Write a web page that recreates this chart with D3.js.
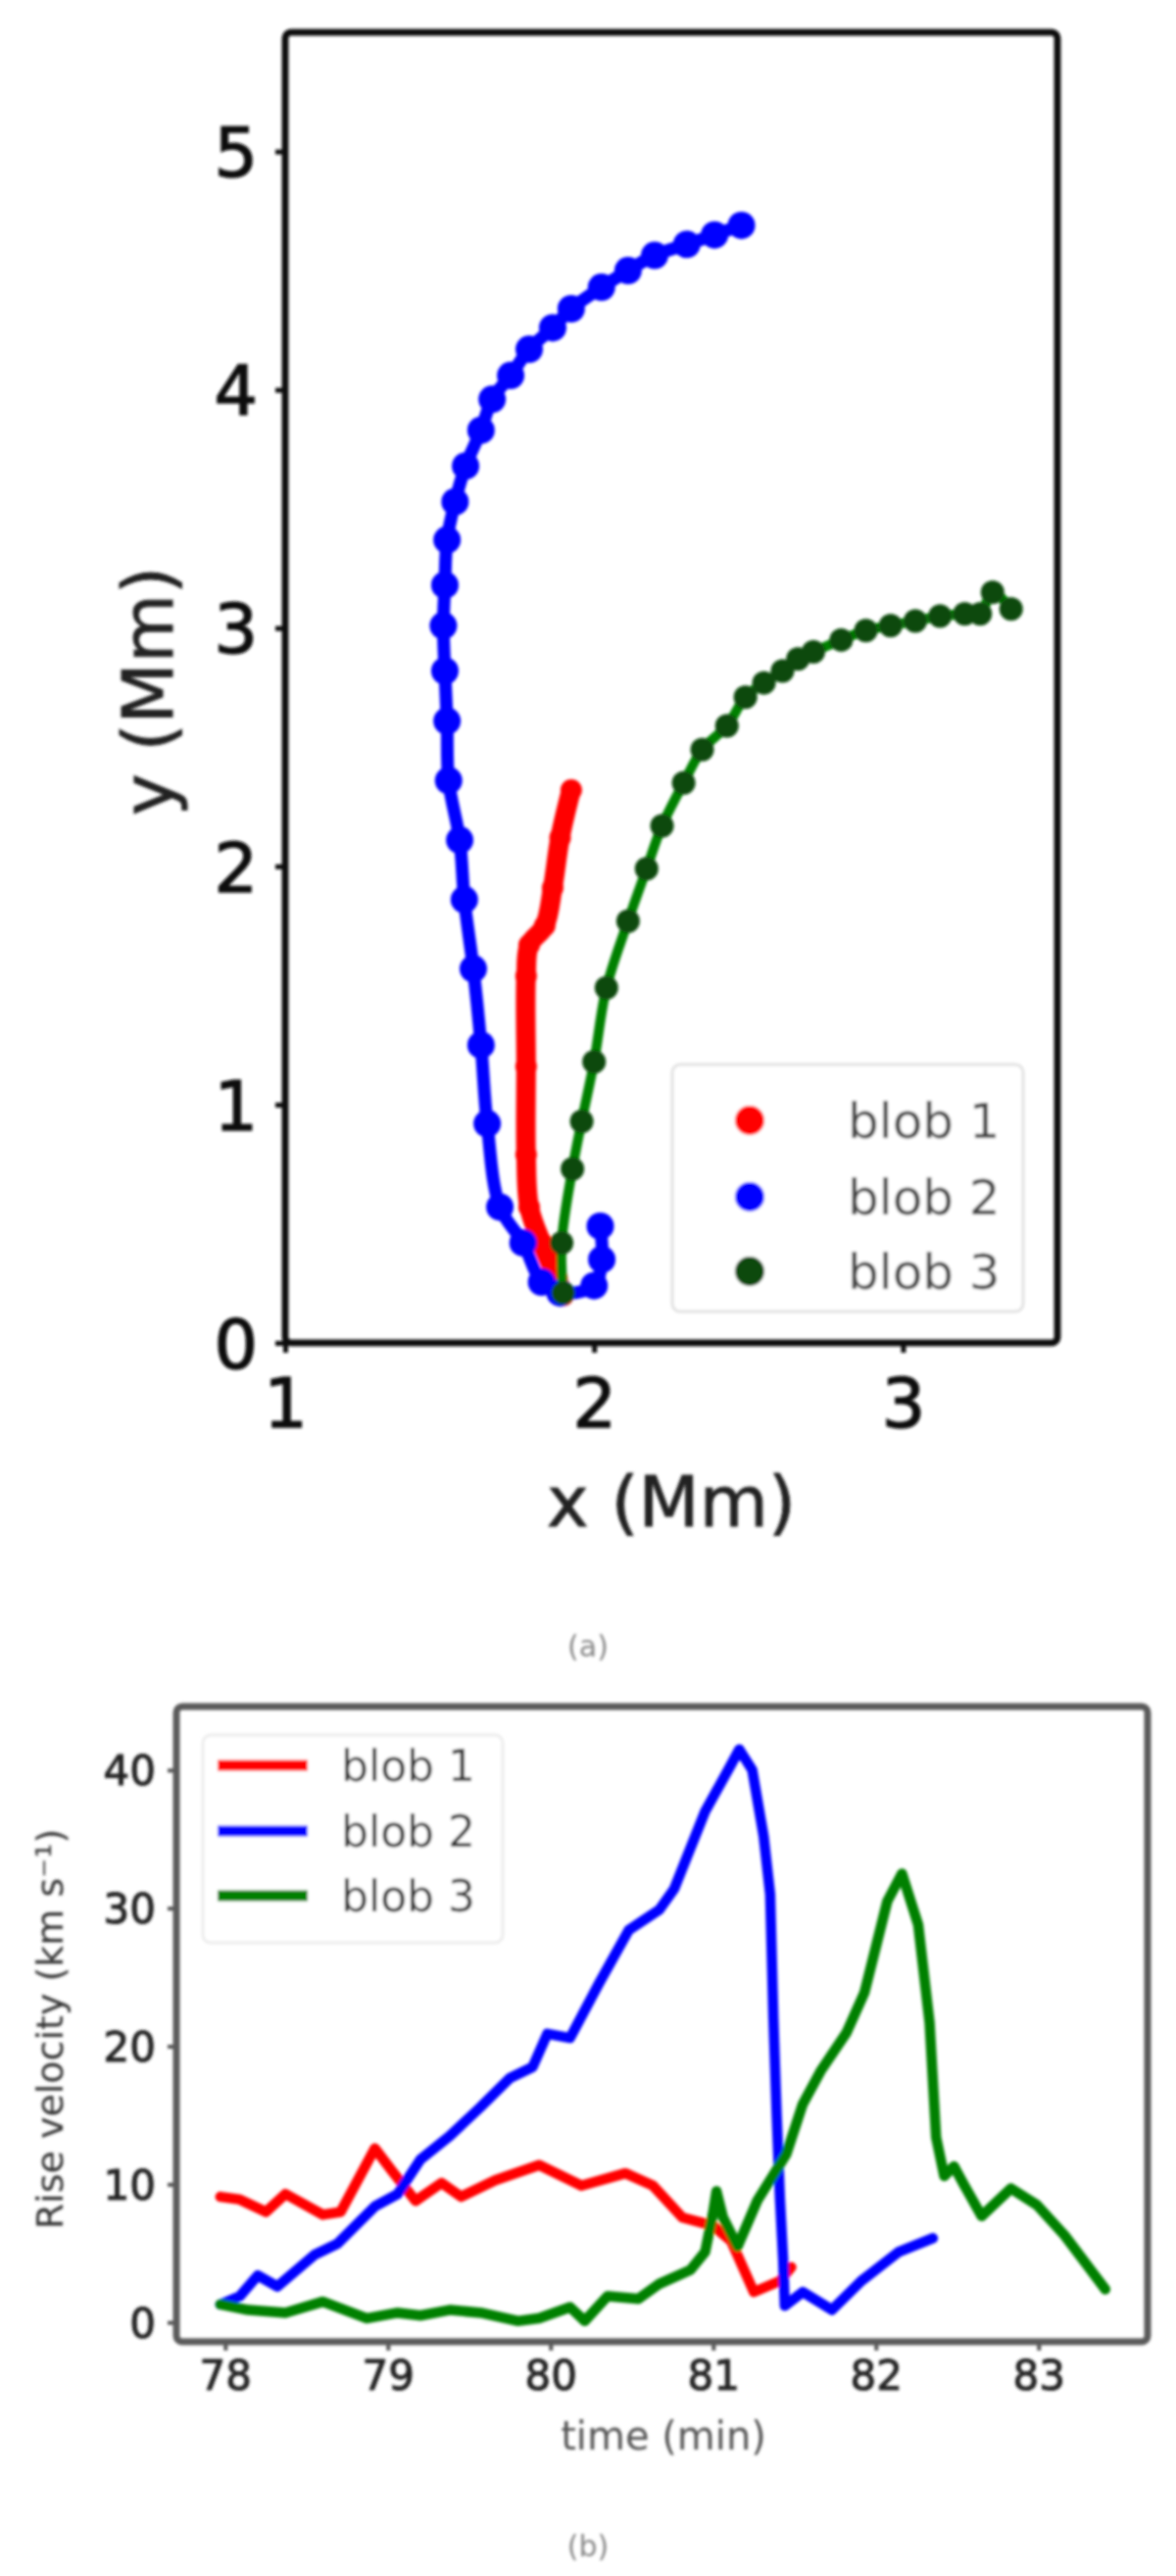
<!DOCTYPE html>
<html>
<head>
<meta charset="utf-8">
<script src="https://cdn.jsdelivr.net/npm/d3@7"></script>
<style>
  html, body { margin: 0; padding: 0; background: #fff; }
  svg { display: block; }
  text { font-family: "DejaVu Sans", sans-serif; }
</style>
</head>
<body>
<svg id="chart" width="1200" height="2628"></svg>
<script>
// ---------------- DATA ----------------
// Panel (a): trajectories, [x (Mm), y (Mm)]
const blobNames = ["blob 1", "blob 2", "blob 3"];
const blobColors = ["#ff0000", "#0000ff", "#008000"];

const blob1Path = [[1.90,0.20],[1.88,0.27],[1.83,0.42],[1.79,0.57],[1.78,0.79],[1.78,1.16],[1.78,1.54],[1.79,1.67],[1.84,1.75],[1.866,1.91],[1.89,2.12],[1.926,2.32]];
const blob2Path = [[2.02,0.49],[2.025,0.35],[2.0,0.24],[1.89,0.21],[1.83,0.255],[1.77,0.42],[1.695,0.57],[1.654,0.92],[1.634,1.25],[1.609,1.57],[1.58,1.86],[1.565,2.11],[1.529,2.36],[1.524,2.61],[1.517,2.82],[1.512,3.01],[1.517,3.18],[1.524,3.37],[1.55,3.53],[1.584,3.68],[1.634,3.83],[1.67,3.96],[1.73,4.06],[1.79,4.17],[1.866,4.26],[1.926,4.34],[2.024,4.43],[2.11,4.50],[2.196,4.564],[2.30,4.61],[2.39,4.65],[2.477,4.69]];
const blob3Path = [[1.90,0.21],[1.895,0.42],[1.93,0.73],[1.96,0.93],[2.0,1.18],[2.04,1.49],[2.11,1.77],[2.17,1.99],[2.22,2.17],[2.29,2.35],[2.35,2.49],[2.43,2.59],[2.49,2.71],[2.55,2.77],[2.61,2.82],[2.66,2.87],[2.71,2.90],[2.80,2.95],[2.88,2.99],[2.96,3.01],[3.04,3.03],[3.12,3.05],[3.20,3.06],[3.25,3.06],[3.29,3.15],[3.35,3.08]];

const topXTicks = [1, 2, 3];
const topYTicks = [0, 1, 2, 3, 4, 5];

// Panel (b): rise velocity vs time
const blob1Time = [77.97,78.09,78.25,78.37,78.6,78.71,78.92,79.03,79.17,79.33,79.45,79.66,79.93,80.19,80.46,80.63,80.81,81.0,81.11,81.25,81.41,81.48];
const blob1Vel  = [9.1,8.9,8.0,9.3,7.8,8.0,12.6,10.9,8.8,10.1,9.1,10.3,11.4,9.9,10.8,9.9,7.6,7.0,5.9,2.2,3.0,4.0];

const blob2Time = [77.97,78.09,78.2,78.32,78.55,78.69,78.92,79.06,79.2,79.38,79.57,79.75,79.89,79.98,80.12,80.3,80.48,80.67,80.76,80.95,81.11,81.16,81.24,81.31,81.35,81.37,81.39,81.41,81.43,81.44,81.55,81.73,81.91,82.14,82.35];
const blob2Vel  = [1.3,1.9,3.4,2.6,4.9,5.7,8.4,9.3,11.8,13.5,15.6,17.7,18.5,20.9,20.6,24.6,28.4,29.9,31.4,37.0,40.4,41.5,40.0,35.2,31.0,22.0,15.0,9.0,4.5,1.2,2.2,0.9,3.0,5.1,6.1];

const blob3Time = [77.97,78.14,78.37,78.6,78.87,79.06,79.2,79.38,79.57,79.8,79.93,80.12,80.21,80.35,80.54,80.67,80.86,80.95,81.0,81.02,81.06,81.15,81.27,81.45,81.55,81.66,81.82,81.93,82.0,82.07,82.16,82.26,82.33,82.37,82.42,82.48,82.54,82.65,82.83,82.99,83.16,83.41];
const blob3Vel  = [1.3,0.9,0.7,1.5,0.3,0.7,0.5,0.9,0.7,0.1,0.3,1.1,0.1,1.9,1.7,2.8,3.8,5.1,8.0,9.5,7.6,5.5,8.8,12.2,15.8,18.2,21.0,23.9,27.2,30.5,32.5,28.8,21.7,13.4,10.6,11.3,10.0,7.7,9.7,8.5,6.3,2.4];

const botXTicks = [78, 79, 80, 81, 82, 83];
const botYTicks = [0, 10, 20, 30, 40];

// ---------------- DRAW ----------------
const svg = d3.select("#chart");
svg.append("rect").attr("width", 1200).attr("height", 2628).attr("fill", "#fff");

const defs = svg.append("defs");
defs.append("filter").attr("id", "soft").attr("x", "-5%").attr("y", "-5%").attr("width", "110%").attr("height", "110%")
  .append("feGaussianBlur").attr("stdDeviation", 1.8);

const root = svg.append("g").attr("filter", "url(#soft)");

// ===== Panel (a) =====
const xA = d3.scaleLinear().domain([1, 3.5]).range([291, 1079]);
const yA = d3.scaleLinear().domain([0, 5.5]).range([1370, 33]);
const gA = root.append("g");

const paths = [blob1Path, blob2Path, blob3Path];
const lineA = d3.line().x(d => xA(d[0])).y(d => yA(d[1])).curve(d3.curveCatmullRom);
const lineW = [20, 13, 10];
const markR = [11, 14, 12];
const markFill = ["#ff0000", "#0000ff", "#0b4a0b"];
paths.forEach((p, i) => {
  gA.append("path").datum(p).attr("d", lineA)
    .attr("fill", "none").attr("stroke", blobColors[i])
    .attr("stroke-width", lineW[i]).attr("stroke-linecap", "round").attr("stroke-linejoin", "round");
  gA.selectAll(null).data(p).enter().append("circle")
    .attr("cx", d => xA(d[0])).attr("cy", d => yA(d[1])).attr("r", markR[i])
    .attr("fill", markFill[i]);
});

// axes (a)
const axA_x = gA.append("g").attr("transform", "translate(0,1370)")
  .call(d3.axisBottom(xA).tickValues(topXTicks).tickFormat(d3.format("d")).tickSize(10).tickPadding(26));
const axA_y = gA.append("g").attr("transform", "translate(291,0)")
  .call(d3.axisLeft(yA).tickValues(topYTicks).tickFormat(d3.format("d")).tickSize(10).tickPadding(18));
[axA_x, axA_y].forEach(ax => {
  ax.select(".domain").remove();
  ax.selectAll(".tick line").attr("stroke", "#111").attr("stroke-width", 5);
  ax.selectAll(".tick text").attr("fill", "#111").attr("font-size", 70).attr("font-family", "DejaVu Sans")
    .attr("stroke", "#111").attr("stroke-width", 1.5);
});
axA_y.selectAll(".tick text").attr("dy", "0.36em");

gA.append("rect").attr("x", 291).attr("y", 33).attr("width", 1079 - 291).attr("height", 1370 - 33)
  .attr("fill", "none").attr("stroke", "#111").attr("stroke-width", 7).attr("rx", 6);

gA.append("text").attr("x", 685).attr("y", 1557).attr("text-anchor", "middle")
  .attr("font-size", 72).attr("fill", "#222").attr("stroke", "#222").attr("stroke-width", 1).text("x (Mm)");
gA.append("text").attr("transform", "translate(176,705) rotate(-90)").attr("text-anchor", "middle")
  .attr("font-size", 72).attr("fill", "#222").attr("stroke", "#222").attr("stroke-width", 1).text("y (Mm)");

// legend (a)
const legA = gA.append("g");
legA.append("rect").attr("x", 686).attr("y", 1086).attr("width", 358).attr("height", 252).attr("rx", 8)
  .attr("fill", "#fff").attr("fill-opacity", 0.85).attr("stroke", "#e2e2e2").attr("stroke-width", 3);
const legARows = [1143, 1221, 1297];
blobNames.forEach((n, i) => {
  legA.append("circle").attr("cx", 765).attr("cy", legARows[i]).attr("r", 15).attr("fill", markFill[i]);
  legA.append("text").attr("x", 865).attr("y", legARows[i]).attr("dy", "0.36em")
    .attr("font-size", 50).attr("fill", "#444").text(n);
});

root.append("text").attr("x", 600).attr("y", 1690).attr("text-anchor", "middle")
  .attr("font-size", 30).attr("fill", "#888").text("(a)");

// ===== Panel (b) =====
const xB = d3.scaleLinear().domain([77.7, 83.67]).range([180, 1171]);
const yB = d3.scaleLinear().domain([-1.4, 44.6]).range([2389, 1741]);
const gB = root.append("g");

const series = [[blob1Time, blob1Vel], [blob2Time, blob2Vel], [blob3Time, blob3Vel]];
const lineB = d3.line().x(d => xB(d[0])).y(d => yB(d[1]));
series.forEach((s, i) => {
  const pts = s[0].map((t, k) => [t, s[1][k]]);
  gB.append("path").datum(pts).attr("d", lineB)
    .attr("fill", "none").attr("stroke", blobColors[i]).attr("stroke-width", 10.5)
    .attr("stroke-linejoin", "round").attr("stroke-linecap", "round");
});

const axB_x = gB.append("g").attr("transform", "translate(0,2389)")
  .call(d3.axisBottom(xB).tickValues(botXTicks).tickFormat(d3.format("d")).tickSize(9).tickPadding(10));
const axB_y = gB.append("g").attr("transform", "translate(180,0)")
  .call(d3.axisLeft(yB).tickValues(botYTicks).tickFormat(d3.format("d")).tickSize(9).tickPadding(12));
[axB_x, axB_y].forEach(ax => {
  ax.select(".domain").remove();
  ax.selectAll(".tick line").attr("stroke", "#555").attr("stroke-width", 4);
  ax.selectAll(".tick text").attr("fill", "#222").attr("font-size", 42).attr("font-family", "DejaVu Sans")
    .attr("stroke", "#222").attr("stroke-width", 1);
});
axB_y.selectAll(".tick text").attr("dy", "0.36em");

gB.append("rect").attr("x", 180).attr("y", 1741).attr("width", 1171 - 180).attr("height", 2389 - 1741)
  .attr("fill", "none").attr("stroke", "#5a5a5a").attr("stroke-width", 7).attr("rx", 6);

gB.append("text").attr("x", 677).attr("y", 2499).attr("text-anchor", "middle")
  .attr("font-size", 40).attr("fill", "#555").text("time (min)");
gB.append("text").attr("transform", "translate(64,2070) rotate(-90)").attr("text-anchor", "middle")
  .attr("font-size", 38).attr("fill", "#333").text("Rise velocity (km s\u207B\u00B9)");

// legend (b)
const legB = gB.append("g");
legB.append("rect").attr("x", 207).attr("y", 1770).attr("width", 306).attr("height", 212).attr("rx", 8)
  .attr("fill", "#fff").attr("fill-opacity", 0.85).attr("stroke", "#ececec").attr("stroke-width", 3);
const legBRows = [1801, 1868, 1934];
blobNames.forEach((n, i) => {
  legB.append("line").attr("x1", 222).attr("x2", 314).attr("y1", legBRows[i]).attr("y2", legBRows[i])
    .attr("stroke", blobColors[i]).attr("stroke-width", 11);
  legB.append("text").attr("x", 348).attr("y", legBRows[i]).attr("dy", "0.36em")
    .attr("font-size", 44).attr("fill", "#333").text(n);
});

root.append("text").attr("x", 600).attr("y", 2608).attr("text-anchor", "middle")
  .attr("font-size", 30).attr("fill", "#888").text("(b)");
</script>
</body>
</html>
